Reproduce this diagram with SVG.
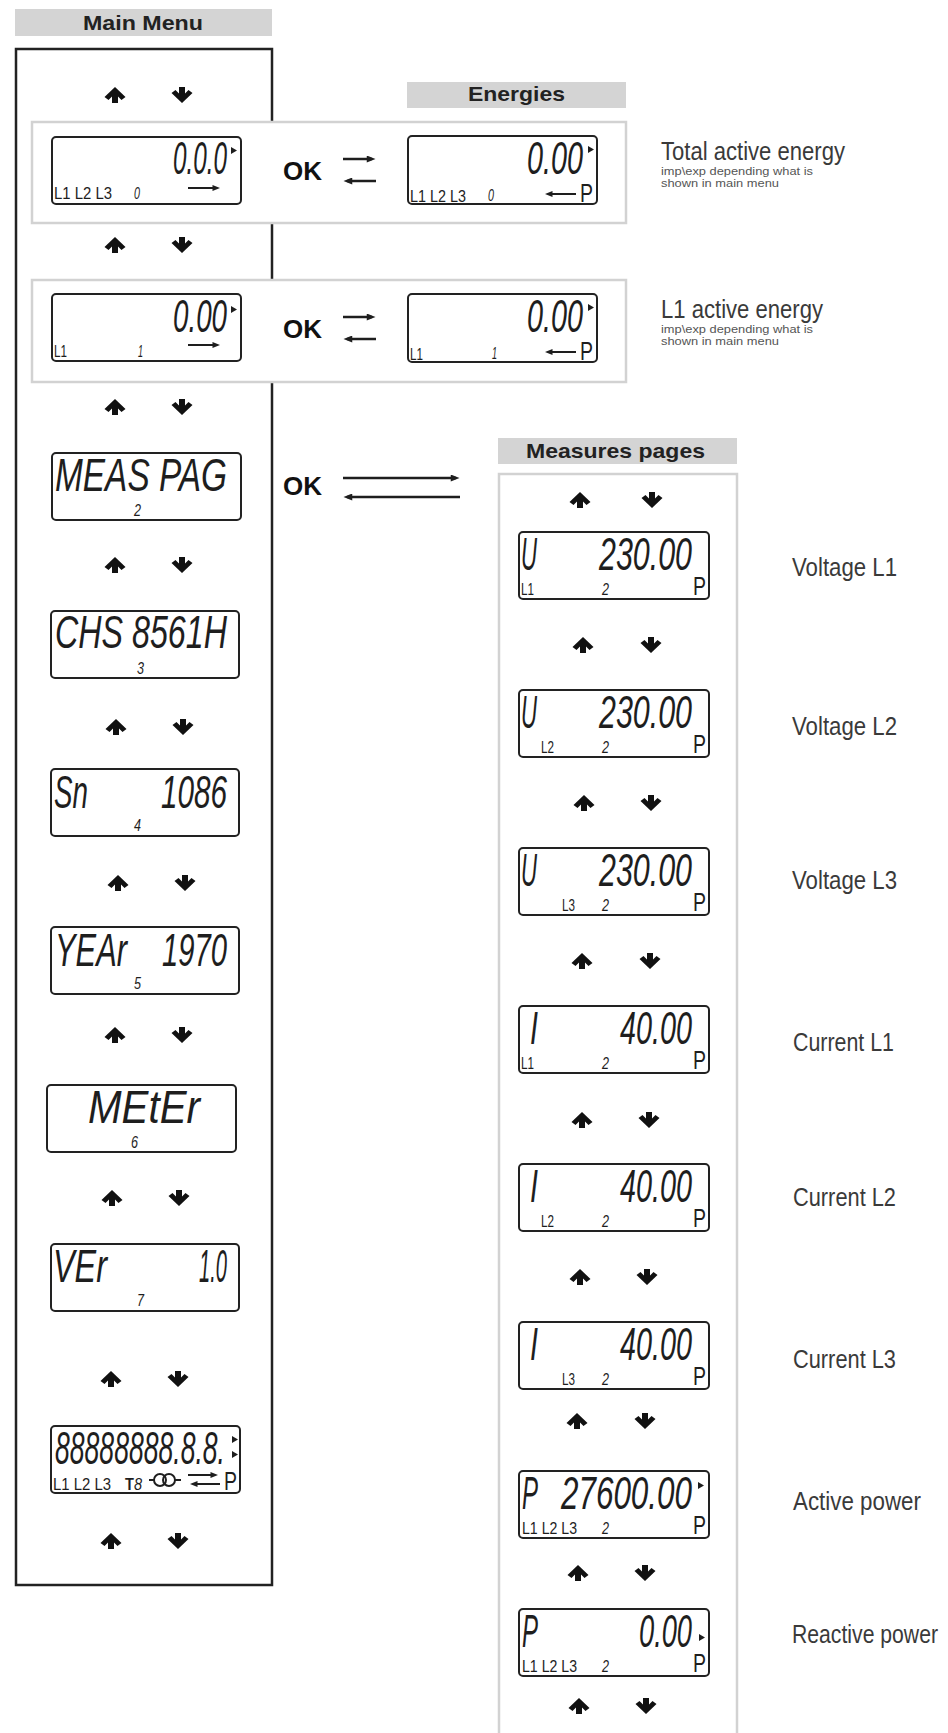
<svg xmlns="http://www.w3.org/2000/svg" width="948" height="1733" viewBox="0 0 948 1733">
<defs>
<style>
.hbg{fill:#d4d4d4}
.hdr{font-family:"Liberation Sans",Arial,sans-serif;font-weight:bold;font-size:21px;fill:#222}
.mbox{fill:#fff;stroke:#222;stroke-width:2.5}
.gbox{fill:#fff;stroke:#d2d2d2;stroke-width:2.5}
.lcd{fill:#fff;stroke:#222;stroke-width:2}
.big{font-family:"Liberation Sans",Arial,sans-serif;font-style:italic;font-size:24px;fill:#1e1e1e}
.sm{font-family:"Liberation Sans",Arial,sans-serif;font-size:17px;fill:#1e1e1e}
.dg{font-family:"Liberation Sans",Arial,sans-serif;font-style:italic;font-size:16px;fill:#1e1e1e}
.pp{font-family:"Liberation Sans",Arial,sans-serif;font-size:25px;fill:#1e1e1e}
.ok{font-family:"Liberation Sans",Arial,sans-serif;font-weight:bold;font-size:25px;fill:#111}
.lbl{font-family:"Liberation Sans",Arial,sans-serif;font-size:21px;fill:#3a3a3a}
.note{font-family:"Liberation Sans",Arial,sans-serif;font-size:10.5px;fill:#555}
.ln{stroke:#1e1e1e;stroke-width:2.5;fill:none}
.ls{stroke:#1e1e1e;stroke-width:2;fill:none}
.tri{fill:#1e1e1e}
.ring{fill:none;stroke:#1e1e1e;stroke-width:2}
</style>
<path id="up" d="M0,-8 L10.5,2 L6.5,5 L3,1.5 L3,8 L-3,8 L-3,1.5 L-6.5,5 L-10.5,2 Z" fill="#111"/>
<path id="dn" d="M0,8 L10.5,-2 L6.5,-5 L3,-1.5 L3,-8 L-3,-8 L-3,-1.5 L-6.5,-5 L-10.5,-2 Z" fill="#111"/>
<marker id="ah" viewBox="0 0 10 8" refX="6" refY="4" markerWidth="10" markerHeight="7" orient="auto" markerUnits="userSpaceOnUse"><path d="M0,0 L10,4 L0,8 Z" fill="#1e1e1e"/></marker>
<marker id="ahs" viewBox="0 0 10 8" refX="6" refY="4" markerWidth="9" markerHeight="6" orient="auto" markerUnits="userSpaceOnUse"><path d="M0,0 L10,4 L0,8 Z" fill="#1e1e1e"/></marker>
</defs>
<rect width="948" height="1733" fill="#fff"/>

<g id="main-menu">
<rect class="hbg" x="15" y="9" width="257" height="27"/>
<text class="hdr" x="83" y="30" textLength="120" lengthAdjust="spacingAndGlyphs">Main Menu</text>
<rect class="mbox" x="16" y="49" width="256" height="1536"/>
</g>

<g id="energies-header">
<rect class="hbg" x="407" y="82" width="219" height="26"/>
<text class="hdr" x="468" y="101" textLength="97" lengthAdjust="spacingAndGlyphs">Energies</text>
</g>

<g id="measures-pages">
<rect class="hbg" x="498" y="438" width="239" height="26"/>
<text class="hdr" x="526" y="458" textLength="179" lengthAdjust="spacingAndGlyphs">Measures pages</text>
<rect x="499" y="474" width="238" height="1290" fill="#fff" stroke="#d2d2d2" stroke-width="2.5"/>
</g>

<g id="total-energy-group"><rect class="gbox" x="32" y="122" width="594" height="101"/></g>
<g id="l1-energy-group"><rect class="gbox" x="32" y="280" width="594" height="102"/></g>

<g id="nav-arrows">
<use href="#up" x="115" y="95"/><use href="#dn" x="182" y="95"/>
<use href="#up" x="115" y="245"/><use href="#dn" x="182" y="245"/>
<use href="#up" x="115" y="407"/><use href="#dn" x="182" y="407"/>
<use href="#up" x="115" y="565"/><use href="#dn" x="182" y="565"/>
<use href="#up" x="116" y="727"/><use href="#dn" x="183" y="727"/>
<use href="#up" x="118" y="883"/><use href="#dn" x="185" y="883"/>
<use href="#up" x="115" y="1035"/><use href="#dn" x="182" y="1035"/>
<use href="#up" x="112" y="1198"/><use href="#dn" x="179" y="1198"/>
<use href="#up" x="111" y="1379"/><use href="#dn" x="178" y="1379"/>
<use href="#up" x="111" y="1541"/><use href="#dn" x="178" y="1541"/>
<use href="#up" x="580" y="500"/><use href="#dn" x="652" y="500"/>
<use href="#up" x="583" y="645"/><use href="#dn" x="651" y="645"/>
<use href="#up" x="584" y="803"/><use href="#dn" x="651" y="803"/>
<use href="#up" x="582" y="961"/><use href="#dn" x="650" y="961"/>
<use href="#up" x="582" y="1120"/><use href="#dn" x="649" y="1120"/>
<use href="#up" x="580" y="1277"/><use href="#dn" x="647" y="1277"/>
<use href="#up" x="577" y="1421"/><use href="#dn" x="645" y="1421"/>
<use href="#up" x="578" y="1573"/><use href="#dn" x="645" y="1573"/>
<use href="#up" x="579" y="1706"/><use href="#dn" x="646" y="1706"/>
</g>

<g id="lcd-main-total" transform="translate(52,137)">
<rect class="lcd" width="189" height="67" rx="4"/>
<text class="big" transform="translate(121,37) scale(1,1.9)" textLength="54" lengthAdjust="spacingAndGlyphs">0.0.0</text>
<polygon class="tri" points="179,10 185,13.5 179,17"/>
<text class="sm" x="2" y="61.5" textLength="58" lengthAdjust="spacingAndGlyphs">L1 L2 L3</text>
<text class="dg" x="82" y="61.5" textLength="6" lengthAdjust="spacingAndGlyphs">0</text>
<line class="ls" x1="136" y1="51" x2="165" y2="51" marker-end="url(#ahs)"/>
</g>

<g id="lcd-main-l1" transform="translate(52,294)">
<rect class="lcd" width="189" height="67" rx="4"/>
<text class="big" transform="translate(121,38) scale(1,1.9)" textLength="54" lengthAdjust="spacingAndGlyphs">0.00</text>
<polygon class="tri" points="179,12 185,15.5 179,19"/>
<text class="sm" x="2" y="62.5" textLength="13" lengthAdjust="spacingAndGlyphs">L1</text>
<text class="dg" x="86" y="62.5" textLength="5" lengthAdjust="spacingAndGlyphs">1</text>
<line class="ls" x1="136" y1="51" x2="165" y2="51" marker-end="url(#ahs)"/>
</g>

<g id="lcd-meas-pag" transform="translate(52,453)">
<rect class="lcd" width="189" height="67" rx="4"/>
<text class="big" transform="translate(3,38) scale(1,1.9)" textLength="172" lengthAdjust="spacingAndGlyphs">MEAS PAG</text>
<text class="dg" x="82" y="62.5" textLength="7" lengthAdjust="spacingAndGlyphs">2</text>
</g>

<g id="lcd-chs" transform="translate(51,611)">
<rect class="lcd" width="188" height="67" rx="4"/>
<text class="big" transform="translate(4,37) scale(1,1.9)" textLength="172" lengthAdjust="spacingAndGlyphs">CHS 8561H</text>
<text class="dg" x="86" y="62.5" textLength="7" lengthAdjust="spacingAndGlyphs">3</text>
</g>

<g id="lcd-sn" transform="translate(51,769)">
<rect class="lcd" width="188" height="67" rx="4"/>
<text class="big" transform="translate(3,39) scale(1,1.9)" textLength="34" lengthAdjust="spacingAndGlyphs">Sn</text>
<text class="big" transform="translate(110,39) scale(1,1.9)" textLength="66" lengthAdjust="spacingAndGlyphs">1086</text>
<text class="dg" x="83" y="62" textLength="7" lengthAdjust="spacingAndGlyphs">4</text>
</g>

<g id="lcd-year" transform="translate(51,927)">
<rect class="lcd" width="188" height="67" rx="4"/>
<text class="big" transform="translate(4,39) scale(1,1.9)" textLength="72" lengthAdjust="spacingAndGlyphs">YEAr</text>
<text class="big" transform="translate(111,39) scale(1,1.9)" textLength="65" lengthAdjust="spacingAndGlyphs">1970</text>
<text class="dg" x="83" y="62" textLength="7" lengthAdjust="spacingAndGlyphs">5</text>
</g>

<g id="lcd-meter" transform="translate(47,1085)">
<rect class="lcd" width="189" height="67" rx="4"/>
<text class="big" transform="translate(41,38) scale(1,1.9)" textLength="112" lengthAdjust="spacingAndGlyphs">MEtEr</text>
<text class="dg" x="84" y="62.5" textLength="7" lengthAdjust="spacingAndGlyphs">6</text>
</g>

<g id="lcd-ver" transform="translate(51,1244)">
<rect class="lcd" width="188" height="67" rx="4"/>
<text class="big" transform="translate(2,38) scale(1,1.9)" textLength="54" lengthAdjust="spacingAndGlyphs">VEr</text>
<text class="big" transform="translate(148,38) scale(1,1.9)" textLength="28" lengthAdjust="spacingAndGlyphs">1.0</text>
<text class="dg" x="86" y="62" textLength="7" lengthAdjust="spacingAndGlyphs">7</text>
</g>

<g id="lcd-test" transform="translate(51,1426)">
<rect class="lcd" width="189" height="67" rx="4"/>
<text class="big" transform="translate(4,38) scale(1,1.9)" textLength="170" lengthAdjust="spacingAndGlyphs">88888888.8.8.</text>
<polygon class="tri" points="181,10 187,13.5 181,17"/>
<polygon class="tri" points="181,25 187,28.5 181,32"/>
<text class="sm" x="2" y="63.5" textLength="58" lengthAdjust="spacingAndGlyphs">L1 L2 L3</text>
<text class="sm" x="74" y="63.5" textLength="17" lengthAdjust="spacingAndGlyphs"><tspan font-weight="bold">T</tspan><tspan font-style="italic">8</tspan></text>
<line class="ls" x1="98" y1="54" x2="103" y2="54"/>
<circle class="ring" cx="109" cy="54" r="6"/>
<circle class="ring" cx="118" cy="54" r="6"/>
<line class="ls" x1="124" y1="54" x2="130" y2="54"/>
<line class="ls" x1="137" y1="49" x2="164" y2="49" marker-end="url(#ahs)"/>
<line class="ls" x1="169" y1="58" x2="142" y2="58" marker-end="url(#ahs)"/>
<text class="pp" x="173" y="64" textLength="13" lengthAdjust="spacingAndGlyphs">P</text>
</g>

<g id="lcd-energy-total" transform="translate(408,136)">
<rect class="lcd" width="189" height="68" rx="4"/>
<text class="big" transform="translate(119,38) scale(1,1.9)" textLength="56" lengthAdjust="spacingAndGlyphs">0.00</text>
<polygon class="tri" points="180,10 186,13.5 180,17"/>
<text class="sm" x="2" y="65.5" textLength="56" lengthAdjust="spacingAndGlyphs">L1 L2 L3</text>
<text class="dg" x="80" y="65" textLength="6" lengthAdjust="spacingAndGlyphs">0</text>
<line class="ls" x1="168" y1="58" x2="140" y2="58" marker-end="url(#ahs)"/>
<text class="pp" x="172" y="66" textLength="13" lengthAdjust="spacingAndGlyphs">P</text>
</g>

<g id="lcd-energy-l1" transform="translate(408,294)">
<rect class="lcd" width="189" height="68" rx="4"/>
<text class="big" transform="translate(119,38) scale(1,1.9)" textLength="56" lengthAdjust="spacingAndGlyphs">0.00</text>
<polygon class="tri" points="180,10 186,13.5 180,17"/>
<text class="sm" x="2" y="65.5" textLength="13" lengthAdjust="spacingAndGlyphs">L1</text>
<text class="dg" x="84" y="65" textLength="5" lengthAdjust="spacingAndGlyphs">1</text>
<line class="ls" x1="168" y1="58" x2="140" y2="58" marker-end="url(#ahs)"/>
<text class="pp" x="172" y="66" textLength="13" lengthAdjust="spacingAndGlyphs">P</text>
</g>

<g id="label-total-energy">
<text class="lbl" transform="translate(661,160) scale(1,1.24)" textLength="184" lengthAdjust="spacingAndGlyphs">Total active energy</text>
<text class="note" x="661" y="175" textLength="152" lengthAdjust="spacingAndGlyphs">imp\exp depending what is</text>
<text class="note" x="661" y="187" textLength="118" lengthAdjust="spacingAndGlyphs">shown in main menu</text>
</g>
<g id="label-l1-energy">
<text class="lbl" transform="translate(661,318) scale(1,1.24)" textLength="162" lengthAdjust="spacingAndGlyphs">L1 active energy</text>
<text class="note" x="661" y="333" textLength="152" lengthAdjust="spacingAndGlyphs">imp\exp depending what is</text>
<text class="note" x="661" y="345" textLength="118" lengthAdjust="spacingAndGlyphs">shown in main menu</text>
</g>

<g id="lcd-voltage-l1" transform="translate(519,532)">
<rect class="lcd" width="190" height="67" rx="4"/>
<text class="big" transform="translate(2,38) scale(1,1.9)" textLength="16" lengthAdjust="spacingAndGlyphs">U</text>
<text class="big" transform="translate(80,38) scale(1,1.9)" textLength="93" lengthAdjust="spacingAndGlyphs">230.00</text>
<text class="sm" x="2" y="62.5" textLength="13" lengthAdjust="spacingAndGlyphs">L1</text>
<text class="dg" x="83" y="62.5" textLength="7" lengthAdjust="spacingAndGlyphs">2</text>
<text class="pp" x="174" y="63" textLength="13" lengthAdjust="spacingAndGlyphs">P</text>
</g>
<g id="lcd-voltage-l2" transform="translate(519,690)">
<rect class="lcd" width="190" height="67" rx="4"/>
<text class="big" transform="translate(2,38) scale(1,1.9)" textLength="16" lengthAdjust="spacingAndGlyphs">U</text>
<text class="big" transform="translate(80,38) scale(1,1.9)" textLength="93" lengthAdjust="spacingAndGlyphs">230.00</text>
<text class="sm" x="22" y="62.5" textLength="13" lengthAdjust="spacingAndGlyphs">L2</text>
<text class="dg" x="83" y="62.5" textLength="7" lengthAdjust="spacingAndGlyphs">2</text>
<text class="pp" x="174" y="63" textLength="13" lengthAdjust="spacingAndGlyphs">P</text>
</g>
<g id="lcd-voltage-l3" transform="translate(519,848)">
<rect class="lcd" width="190" height="67" rx="4"/>
<text class="big" transform="translate(2,38) scale(1,1.9)" textLength="16" lengthAdjust="spacingAndGlyphs">U</text>
<text class="big" transform="translate(80,38) scale(1,1.9)" textLength="93" lengthAdjust="spacingAndGlyphs">230.00</text>
<text class="sm" x="43" y="62.5" textLength="13" lengthAdjust="spacingAndGlyphs">L3</text>
<text class="dg" x="83" y="62.5" textLength="7" lengthAdjust="spacingAndGlyphs">2</text>
<text class="pp" x="174" y="63" textLength="13" lengthAdjust="spacingAndGlyphs">P</text>
</g>
<g id="lcd-current-l1" transform="translate(519,1006)">
<rect class="lcd" width="190" height="67" rx="4"/>
<text class="big" transform="translate(11,38) scale(1,1.9)" textLength="8" lengthAdjust="spacingAndGlyphs">I</text>
<text class="big" transform="translate(101,38) scale(1,1.9)" textLength="72" lengthAdjust="spacingAndGlyphs">40.00</text>
<text class="sm" x="2" y="62.5" textLength="13" lengthAdjust="spacingAndGlyphs">L1</text>
<text class="dg" x="83" y="62.5" textLength="7" lengthAdjust="spacingAndGlyphs">2</text>
<text class="pp" x="174" y="63" textLength="13" lengthAdjust="spacingAndGlyphs">P</text>
</g>
<g id="lcd-current-l2" transform="translate(519,1164)">
<rect class="lcd" width="190" height="67" rx="4"/>
<text class="big" transform="translate(11,38) scale(1,1.9)" textLength="8" lengthAdjust="spacingAndGlyphs">I</text>
<text class="big" transform="translate(101,38) scale(1,1.9)" textLength="72" lengthAdjust="spacingAndGlyphs">40.00</text>
<text class="sm" x="22" y="62.5" textLength="13" lengthAdjust="spacingAndGlyphs">L2</text>
<text class="dg" x="83" y="62.5" textLength="7" lengthAdjust="spacingAndGlyphs">2</text>
<text class="pp" x="174" y="63" textLength="13" lengthAdjust="spacingAndGlyphs">P</text>
</g>
<g id="lcd-current-l3" transform="translate(519,1322)">
<rect class="lcd" width="190" height="67" rx="4"/>
<text class="big" transform="translate(11,38) scale(1,1.9)" textLength="8" lengthAdjust="spacingAndGlyphs">I</text>
<text class="big" transform="translate(101,38) scale(1,1.9)" textLength="72" lengthAdjust="spacingAndGlyphs">40.00</text>
<text class="sm" x="43" y="62.5" textLength="13" lengthAdjust="spacingAndGlyphs">L3</text>
<text class="dg" x="83" y="62.5" textLength="7" lengthAdjust="spacingAndGlyphs">2</text>
<text class="pp" x="174" y="63" textLength="13" lengthAdjust="spacingAndGlyphs">P</text>
</g>
<g id="lcd-active-power" transform="translate(519,1471)">
<rect class="lcd" width="190" height="67" rx="4"/>
<text class="big" transform="translate(3,38) scale(1,1.9)" textLength="16" lengthAdjust="spacingAndGlyphs">P</text>
<text class="big" transform="translate(42,38) scale(1,1.9)" textLength="131" lengthAdjust="spacingAndGlyphs">27600.00</text>
<polygon class="tri" points="179,11 185,14.5 179,18"/>
<text class="sm" x="3" y="62.5" textLength="55" lengthAdjust="spacingAndGlyphs">L1 L2 L3</text>
<text class="dg" x="83" y="62.5" textLength="7" lengthAdjust="spacingAndGlyphs">2</text>
<text class="pp" x="174" y="63" textLength="13" lengthAdjust="spacingAndGlyphs">P</text>
</g>
<g id="lcd-reactive-power" transform="translate(519,1609)">
<rect class="lcd" width="190" height="67" rx="4"/>
<text class="big" transform="translate(3,38) scale(1,1.9)" textLength="16" lengthAdjust="spacingAndGlyphs">P</text>
<text class="big" transform="translate(120,38) scale(1,1.9)" textLength="53" lengthAdjust="spacingAndGlyphs">0.00</text>
<polygon class="tri" points="180,25 186,28.5 180,32"/>
<text class="sm" x="3" y="62.5" textLength="55" lengthAdjust="spacingAndGlyphs">L1 L2 L3</text>
<text class="dg" x="83" y="62.5" textLength="7" lengthAdjust="spacingAndGlyphs">2</text>
<text class="pp" x="174" y="63" textLength="13" lengthAdjust="spacingAndGlyphs">P</text>
</g>

<g id="measure-labels">
<text class="lbl" transform="translate(792,576) scale(1,1.24)" textLength="105" lengthAdjust="spacingAndGlyphs">Voltage L1</text>
<text class="lbl" transform="translate(792,735) scale(1,1.24)" textLength="105" lengthAdjust="spacingAndGlyphs">Voltage L2</text>
<text class="lbl" transform="translate(792,889) scale(1,1.24)" textLength="105" lengthAdjust="spacingAndGlyphs">Voltage L3</text>
<text class="lbl" transform="translate(793,1051) scale(1,1.24)" textLength="101" lengthAdjust="spacingAndGlyphs">Current L1</text>
<text class="lbl" transform="translate(793,1206) scale(1,1.24)" textLength="103" lengthAdjust="spacingAndGlyphs">Current L2</text>
<text class="lbl" transform="translate(793,1368) scale(1,1.24)" textLength="103" lengthAdjust="spacingAndGlyphs">Current L3</text>
<text class="lbl" transform="translate(793,1510) scale(1,1.24)" textLength="128" lengthAdjust="spacingAndGlyphs">Active power</text>
<text class="lbl" transform="translate(792,1643) scale(1,1.24)" textLength="146" lengthAdjust="spacingAndGlyphs">Reactive power</text>
</g>

<g id="connectors">
<text class="ok" x="283" y="180" textLength="39" lengthAdjust="spacingAndGlyphs">OK</text>
<line class="ln" x1="343" y1="159" x2="372" y2="159" marker-end="url(#ah)"/>
<line class="ln" x1="376" y1="181" x2="347" y2="181" marker-end="url(#ah)"/>
<text class="ok" x="283" y="338" textLength="39" lengthAdjust="spacingAndGlyphs">OK</text>
<line class="ln" x1="343" y1="317" x2="372" y2="317" marker-end="url(#ah)"/>
<line class="ln" x1="376" y1="339" x2="347" y2="339" marker-end="url(#ah)"/>
<text class="ok" x="283" y="495" textLength="39" lengthAdjust="spacingAndGlyphs">OK</text>
<line class="ln" x1="343" y1="478" x2="456" y2="478" marker-end="url(#ah)"/>
<line class="ln" x1="460" y1="497" x2="347" y2="497" marker-end="url(#ah)"/>
</g>
</svg>
